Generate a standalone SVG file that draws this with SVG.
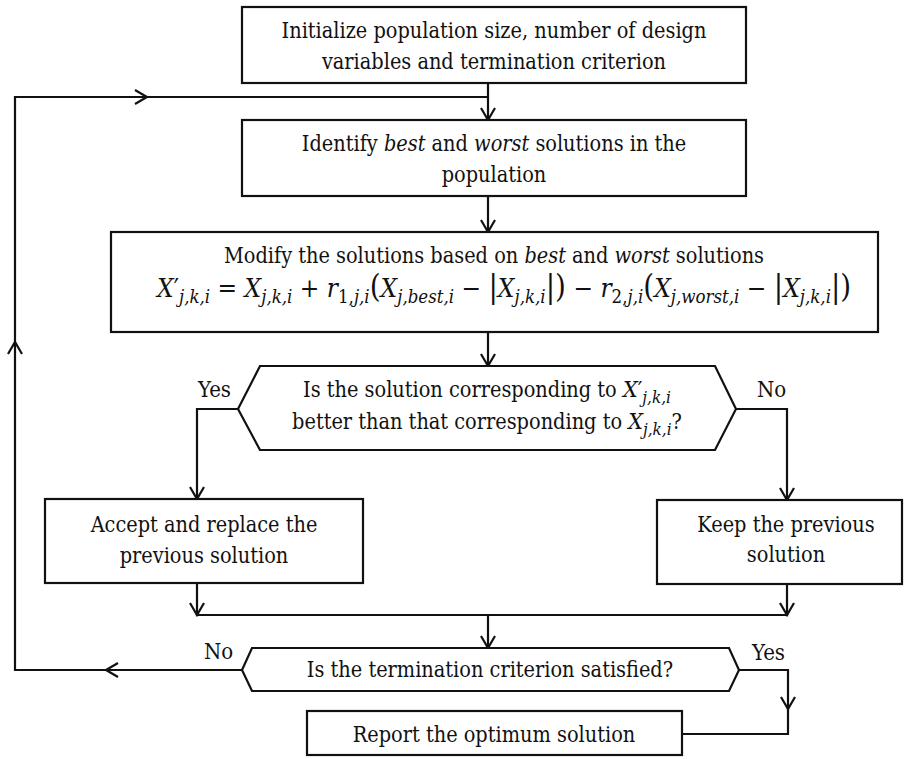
<svg xmlns="http://www.w3.org/2000/svg" xmlns:xlink="http://www.w3.org/1999/xlink" width="905" height="759" viewBox="0 0 905 759">
<style>
  .box { fill: #fff; stroke: #111; stroke-width: 2.2; }
  .ln { fill: none; stroke: #111; stroke-width: 2.2; }
  .t { font-family: 'DejaVu Serif Condensed', 'DejaVu Serif', serif; font-stretch: condensed; font-size: 21.5px; fill: #111; text-anchor: middle; }
  .tl { font-family: 'DejaVu Serif Condensed', 'DejaVu Serif', serif; font-stretch: condensed; font-size: 22px; fill: #111; }
  .m { font-family: 'DejaVu Serif Condensed', 'DejaVu Serif', serif; font-stretch: condensed; font-size: 26px; fill: #111; }
  .i { font-style: italic; }
  .mx { font-size: 23px; }
  .s { font-size: 18.5px; }
  .ss { font-size: 17px; }
  .p { font-size: 31px; }
</style>
<defs>
  <path id="ah" d="M-7,-12 L0,0 L7,-12" fill="none" stroke="#111" stroke-width="2.2"/>
</defs>
<rect width="905" height="759" fill="#fff"/>

<g id="connectors">
  <path class="ln" d="M488,83 V120"/>
  <path class="ln" d="M488,196 V232"/>
  <path class="ln" d="M488,332 V366"/>
  <path class="ln" d="M238,409 H197 V499"/>
  <path class="ln" d="M736,409 H787 V500"/>
  <path class="ln" d="M197,583 V615 H787 V584"/>
  <path class="ln" d="M488,615 V648"/>
  <path class="ln" d="M242,670 H15 V97 H488"/>
  <path class="ln" d="M739,670 H788 V734 H682"/>
  <use xlink:href="#ah" transform="translate(488,120)"/>
  <use xlink:href="#ah" transform="translate(488,232)"/>
  <use xlink:href="#ah" transform="translate(488,366)"/>
  <use xlink:href="#ah" transform="translate(197,499)"/>
  <use xlink:href="#ah" transform="translate(787,500)"/>
  <use xlink:href="#ah" transform="translate(197,615)"/>
  <use xlink:href="#ah" transform="translate(787,615)"/>
  <use xlink:href="#ah" transform="translate(488,648)"/>
  <use xlink:href="#ah" transform="translate(788,709)"/>
  <use xlink:href="#ah" transform="translate(147,97) rotate(-90)"/>
  <use xlink:href="#ah" transform="translate(106,670) rotate(90)"/>
  <use xlink:href="#ah" transform="translate(15,342) rotate(180)"/>
  <text class="tl" x="198" y="397">Yes</text>
  <text class="tl" x="757" y="397">No</text>
  <text class="tl" x="204" y="659">No</text>
  <text class="tl" x="752" y="660">Yes</text>
</g>

<g id="init">
  <rect class="box" x="242" y="7" width="504" height="76"/>
  <text class="t" x="494" y="38">Initialize population size, number of design</text>
  <text class="t" x="494" y="69">variables and termination criterion</text>
</g>

<g id="identify">
  <rect class="box" x="242" y="120" width="504" height="76"/>
  <text class="t" x="494" y="151">Identify <tspan class="i">best</tspan> and <tspan class="i">worst</tspan> solutions in the</text>
  <text class="t" x="494" y="182">population</text>
</g>

<g id="modify">
  <rect class="box" x="111" y="232" width="767" height="100"/>
  <text class="t" x="494" y="263">Modify the solutions based on <tspan class="i">best</tspan> and <tspan class="i">worst</tspan> solutions</text>
  <text class="m" x="157" y="297"><tspan class="i">X</tspan>′<tspan class="s i" dy="6">j,k,i</tspan><tspan dy="-6"> = </tspan><tspan class="i">X</tspan><tspan class="s i" dy="6">j,k,i</tspan><tspan dy="-6"> + </tspan><tspan class="i">r</tspan><tspan class="s" dy="6">1,<tspan class="i">j,i</tspan></tspan><tspan class="p" dy="-6">(</tspan><tspan class="i">X</tspan><tspan class="s i" dy="6">j,best,i</tspan><tspan dy="-6"> − </tspan><tspan class="p">|</tspan><tspan class="i">X</tspan><tspan class="s i" dy="6">j,k,i</tspan><tspan class="p" dy="-6">|)</tspan><tspan> − </tspan><tspan class="i">r</tspan><tspan class="s" dy="6">2,<tspan class="i">j,i</tspan></tspan><tspan class="p" dy="-6">(</tspan><tspan class="i">X</tspan><tspan class="s i" dy="6">j,worst,i</tspan><tspan dy="-6"> − </tspan><tspan class="p">|</tspan><tspan class="i">X</tspan><tspan class="s i" dy="6">j,k,i</tspan><tspan class="p" dy="-6">|)</tspan></text>
</g>

<g id="decision1">
  <polygon class="box" points="260,366 715,366 736,409 715,450 260,450 238,409"/>
  <text class="t" x="487" y="397">Is the solution corresponding to <tspan class="i mx">X</tspan><tspan class="mx">′</tspan><tspan class="ss i" dy="6">j,k,i</tspan></text>
  <text class="t" x="487" y="429">better than that corresponding to <tspan class="i mx">X</tspan><tspan class="ss i" dy="6">j,k,i</tspan><tspan dy="-6">?</tspan></text>
</g>

<g id="accept">
  <rect class="box" x="45" y="499" width="318" height="84"/>
  <text class="t" x="204" y="532">Accept and replace the</text>
  <text class="t" x="204" y="563">previous solution</text>
</g>

<g id="keep">
  <rect class="box" x="657" y="500" width="245" height="84"/>
  <text class="t" x="786" y="532">Keep the previous</text>
  <text class="t" x="786" y="562">solution</text>
</g>

<g id="decision2">
  <polygon class="box" points="252,648 729,648 739,670 729,691 252,691 242,670"/>
  <text class="t" x="490" y="677">Is the termination criterion satisfied?</text>
</g>

<g id="report">
  <rect class="box" x="307" y="711" width="375" height="44"/>
  <text class="t" x="494" y="742">Report the optimum solution</text>
</g>
</svg>
